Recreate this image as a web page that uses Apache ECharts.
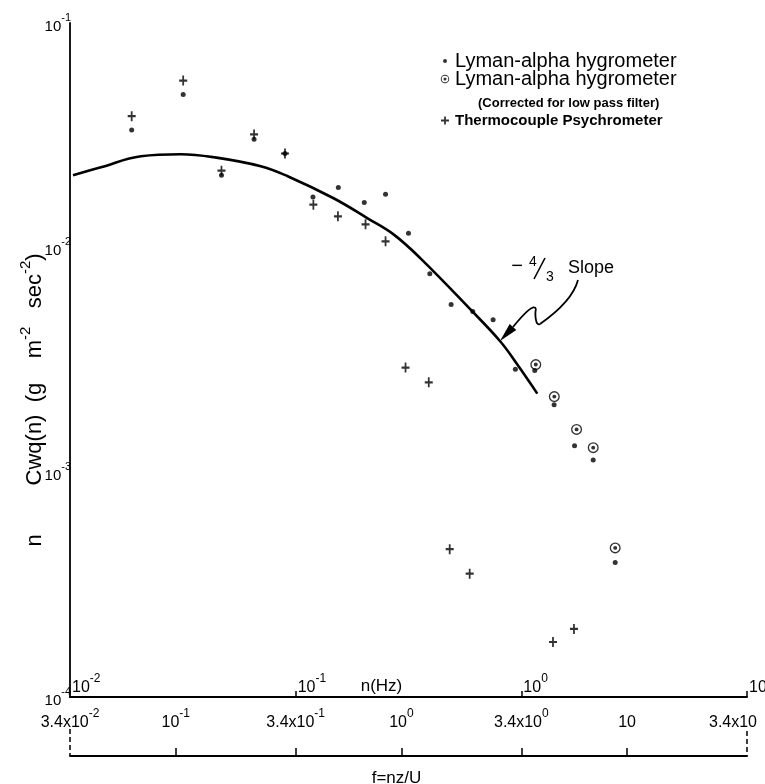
<!DOCTYPE html>
<html><head><meta charset="utf-8">
<script src="https://cdn.jsdelivr.net/npm/echarts@6/dist/echarts.min.js"></script>
<style>html,body{margin:0;padding:0;background:#fff}#c{width:765px;height:784px}</style>
</head><body><div id="c"></div>
<script>
// ---------------- data (f = nz/U on x, n Cwq(n) on y) ----------------
const lymanF = [0.0638, 0.1079, 0.1595, 0.2224, 0.3049, 0.4056, 0.5254, 0.6847, 0.8507, 1.075, 1.336, 1.661, 2.071, 2.549, 3.199, 3.900, 4.750, 5.852, 7.079, 8.860];
const lymanV = [0.03344, 0.04808, 0.02101, 0.03040, 0.02625, 0.01681, 0.01852, 0.01587, 0.01729, 0.01158, 0.007656, 0.005587, 0.005200, 0.004775, 0.002876, 0.002837, 0.002001, 0.001314, 0.001135, 0.0003967];
const correctedF = [3.941, 4.760, 5.974, 7.079, 8.860];
const correctedV = [0.003017, 0.002173, 0.001553, 0.001288, 0.000461];
const thermoF = [0.0638, 0.1079, 0.1595, 0.2224, 0.3049, 0.4073, 0.5233, 0.6936, 0.8507, 1.043, 1.322, 1.637, 2.007, 4.696, 5.817];
const thermoV = [0.03848, 0.05541, 0.02200, 0.03190, 0.02625, 0.01554, 0.01379, 0.01270, 0.01067, 0.002926, 0.002517, 0.000455, 0.0003541, 0.0001757, 0.0002008];
const curveF = [0.03505, 0.04664, 0.07009, 0.10536, 0.14746, 0.238, 0.3134, 0.5008, 0.7082, 0.9229, 1.2152, 2.0227, 2.7455, 3.264, 4.0018];
const curveV = [0.02101, 0.02280, 0.02553, 0.02606, 0.02527, 0.02305, 0.02080, 0.01659, 0.01351, 0.01146, 0.008959, 0.005308, 0.003822, 0.003017, 0.002240];

// ---------------- axes / ticks ----------------
const F_MIN = 0.034, F_MAX = 34;
const N_MIN = 0.01, N_MAX = 10;
const Y_MIN = 0.0001, Y_MAX = 0.1;
const fTicks = [0.034, 0.1, 0.34, 1, 3.4, 10, 34];
const fTickLabels = [['3.4x10', '-2'], ['10', '-1'], ['3.4x10', '-1'], ['10', '0'], ['3.4x10', '0'], ['10', ''], ['3.4x10', '']];
const fTickMarks = [0.1, 0.34, 1, 3.4, 10];
const nTicks = [0.01, 0.1, 1, 10];
const nTickLabels = [['10', '-2'], ['10', '-1'], ['10', '0'], ['10', '']];
const nTickMarks = [0.1, 1, 10];
const yTicks = [0.0001, 0.001, 0.01, 0.1];
const yTickLabels = [['10', '-4'], ['10', '-3'], ['10', '-2'], ['10', '-1']];

const S1 = 'Lyman-alpha hygrometer';
const S2 = 'Lyman-alpha hygrometer (Corrected for low pass filter)';
const S3 = 'Thermocouple Psychrometer';

const FONT = "'Liberation Sans', Arial, sans-serif";
const GRID = {left: 70, right: 18, top: 23, bottom: 87, containLabel: false, outerBoundsMode: 'none'};

function idxOf(ticks, logVal) {
  for (let i = 0; i < ticks.length; i++) if (Math.abs(Math.log10(ticks[i]) - logVal) < 1e-6) return i;
  return -1;
}
function supText(pair) {
  return '{b|' + pair[0] + '}' + (pair[1] ? '{s|' + pair[1] + '}' : '');
}
function richFor(base, sup, pad, padLeft, endPad) {
  return {
    b: {fontSize: base, fontFamily: FONT, color: '#000', padding: [pad, 0, 0, padLeft]},
    s: {fontSize: sup, fontFamily: FONT, color: '#000', verticalAlign: 'top'},
    e: {fontSize: base, fontFamily: FONT, color: '#000', padding: [pad, endPad, 0, 0]}
  };
}
const zip = (xs, ys) => xs.map((x, i) => [x, ys[i]]);

const dotSym = 'circle';
const circSym = 'path://M0,-10A10,10,0,1,1,0,10A10,10,0,1,1,0,-10ZM0,-7.6A7.6,7.6,0,1,0,0,7.6A7.6,7.6,0,1,0,0,-7.6ZM0,-3.6A3.6,3.6,0,1,1,0,3.6A3.6,3.6,0,1,1,0,-3.6Z';
const plusSym = 'path://M-2,-9L2,-9L2,-2L9,-2L9,2L2,2L2,9L-2,9L-2,2L-9,2L-9,-2L-2,-2Z';
const dotIcon = 'path://M-10,-10M10,10M0,-4A4,4,0,1,1,0,4A4,4,0,1,1,0,-4Z';
const circIcon = 'path://M-10,-10M10,10M0,-8.5A8.5,8.5,0,1,1,0,8.5A8.5,8.5,0,1,1,0,-8.5ZM0,-6.6A6.6,6.6,0,1,0,0,6.6A6.6,6.6,0,1,0,0,-6.6ZM0,-3A3,3,0,1,1,0,3A3,3,0,1,1,0,-3Z';
const plusIcon = 'path://M-10,-10M10,10M-1.8,-8L1.8,-8L1.8,-1.8L8,-1.8L8,1.8L1.8,1.8L1.8,8L-1.8,8L-1.8,1.8L-8,1.8L-8,-1.8L-1.8,-1.8Z';

const chart = echarts.init(document.getElementById('c'), null, {renderer: 'canvas'});

const leftX = GRID.left, rightX = 765 - GRID.right;
const legendCommon = {orient: 'vertical', left: 440, itemWidth: 10, itemHeight: 10, selectedMode: false, padding: 0};

chart.setOption({
  animation: false,
  backgroundColor: '#fff',
  grid: GRID,
  legend: [
    Object.assign({}, legendCommon, {
      top: 51,
      textStyle: {fontSize: 20, fontFamily: FONT, color: '#000'},
      data: [{name: S1, icon: dotIcon}]
    }),
    Object.assign({}, legendCommon, {
      top: 69,
      textStyle: {fontSize: 20, fontFamily: FONT, color: '#000'},
      formatter: () => S1,
      data: [{name: S2, icon: circIcon}]
    }),
    Object.assign({}, legendCommon, {
      top: 113,
      textStyle: {fontSize: 15, fontWeight: 'bold', fontFamily: FONT, color: '#000'},
      data: [{name: S3, icon: plusIcon}]
    })
  ],
  xAxis: [
    {type: 'log', logBase: 10, min: F_MIN, max: F_MAX, show: false},
    {
      type: 'value', position: 'bottom', offset: 0,
      min: Math.log10(N_MIN), max: Math.log10(N_MAX),
      axisLine: {show: true, onZero: false, lineStyle: {color: '#000', width: 1.8}},
      axisTick: {show: true, inside: true, length: 6, lineStyle: {color: '#000', width: 1.5}, customValues: nTickMarks.map(Math.log10)},
      axisLabel: {
        show: true, inside: true, margin: 1, align: 'left', verticalAlign: 'bottom',
        customValues: nTicks.map(Math.log10),
        formatter: v => { const i = idxOf(nTicks, v); return i < 0 ? '' : supText(nTickLabels[i]); },
        rich: richFor(16, 12, 7, 2, 0)
      },
      splitLine: {show: false},
      name: 'n(Hz)', nameLocation: 'middle', nameGap: -19, nameMoveOverlap: false,
      nameTextStyle: {fontSize: 17, fontFamily: FONT, color: '#000', padding: [0, 54, 0, 0]}
    },
    {
      type: 'value', position: 'bottom', offset: 59,
      min: Math.log10(F_MIN), max: Math.log10(F_MAX),
      axisLine: {show: true, onZero: false, lineStyle: {color: '#000', width: 1.8}},
      axisTick: {show: true, inside: true, length: 8, lineStyle: {color: '#000', width: 1.5}, customValues: fTickMarks.map(Math.log10)},
      axisLabel: {
        show: true, inside: true, margin: 25, align: 'center', verticalAlign: 'bottom',
        showMinLabel: true, showMaxLabel: true,
        customValues: fTicks.map(Math.log10),
        formatter: v => {
          const i = idxOf(fTicks, v);
          if (i < 0) return '';
          if (i === fTicks.length - 1) return '{e|' + fTickLabels[i][0] + '}';
          return supText(fTickLabels[i]);
        },
        rich: richFor(16, 12, 7, 0, 28)
      },
      splitLine: {show: false},
      name: 'f=nz/U', nameLocation: 'middle', nameGap: 14, nameMoveOverlap: false,
      nameTextStyle: {fontSize: 17, fontFamily: FONT, color: '#000', padding: [0, 24, 0, 0]}
    }
  ],
  yAxis: {
    type: 'log', logBase: 10, min: Y_MIN, max: Y_MAX,
    axisLine: {show: true, onZero: false, lineStyle: {color: '#000', width: 1.8}},
    axisTick: {show: false},
    minorTick: {show: false},
    splitLine: {show: false},
    axisLabel: {
      margin: -1, align: 'right',
      formatter: v => { const i = idxOf(yTicks, Math.log10(v)); return i < 0 ? '' : supText(yTickLabels[i]); },
      rich: richFor(15, 11, 7, 0, 0)
    },
    name: '{a|n        Cwq(n)  (g    m}{s|-2}{a|   sec}{s|-2}{a|)}',
    nameLocation: 'middle', nameGap: 24, nameRotate: 90, nameMoveOverlap: false,
    nameTextStyle: {
      padding: [0, 80, 0, 0],
      rich: {
        a: {fontSize: 22, fontFamily: FONT, color: '#000', padding: [6, 0, 0, 0]},
        s: {fontSize: 15, fontFamily: FONT, color: '#000', verticalAlign: 'top'}
      }
    }
  },
  series: [
    {
      name: '-4/3 slope fit', type: 'line', xAxisIndex: 0, yAxisIndex: 0,
      data: zip(curveF, curveV), smooth: 0.4, showSymbol: false, symbol: 'none',
      lineStyle: {color: '#000', width: 2.6}, z: 2, silent: true
    },
    {
      name: S1, type: 'scatter', xAxisIndex: 0, yAxisIndex: 0,
      data: zip(lymanF, lymanV), symbol: dotSym, symbolSize: 5,
      itemStyle: {color: '#000'}, z: 3
    },
    {
      name: S2, type: 'scatter', xAxisIndex: 0, yAxisIndex: 0,
      data: zip(correctedF, correctedV), symbol: circSym, symbolSize: 11,
      itemStyle: {color: '#000'}, z: 4
    },
    {
      name: S3, type: 'scatter', xAxisIndex: 0, yAxisIndex: 0,
      data: zip(thermoF, thermoV), symbol: plusSym, symbolSize: [8, 10],
      itemStyle: {color: '#000'}, z: 3
    }
  ],
  graphic: [
    {type: 'text', x: 478, y: 103, style: {text: '(Corrected for low pass filter)', fontSize: 13, fontWeight: 'bold', fontFamily: FONT, fill: '#000', align: 'left', verticalAlign: 'middle', textAlign: 'left', textVerticalAlign: 'middle'}},
    // -4/3 Slope annotation
    {type: 'text', x: 517, y: 266, style: {text: '\u2212', fontSize: 20, fontFamily: FONT, fill: '#000', align: 'center', verticalAlign: 'middle', textAlign: 'center', textVerticalAlign: 'middle'}},
    {type: 'text', x: 533, y: 262, style: {text: '4', fontSize: 14, fontFamily: FONT, fill: '#000', align: 'center', verticalAlign: 'middle', textAlign: 'center', textVerticalAlign: 'middle'}},
    {type: 'line', shape: {x1: 534, y1: 279, x2: 545, y2: 258}, style: {stroke: '#000', lineWidth: 1.6}},
    {type: 'text', x: 550, y: 277, style: {text: '3', fontSize: 14, fontFamily: FONT, fill: '#000', align: 'center', verticalAlign: 'middle', textAlign: 'center', textVerticalAlign: 'middle'}},
    {type: 'text', x: 568, y: 268, style: {text: 'Slope', fontSize: 18, fontFamily: FONT, fill: '#000', align: 'left', verticalAlign: 'middle', textAlign: 'left', textVerticalAlign: 'middle'}},
    {type: 'bezierCurve', shape: {x1: 578, y1: 280, cpx1: 574, cpy1: 295, cpx2: 560, cpy2: 310, x2: 540, y2: 324}, style: {stroke: '#000', lineWidth: 1.8, fill: null}},
    {type: 'bezierCurve', shape: {x1: 540, y1: 324, cpx1: 535, cpy1: 327, cpx2: 535, cpy2: 312, x2: 536, y2: 309}, style: {stroke: '#000', lineWidth: 1.8, fill: null}},
    {type: 'bezierCurve', shape: {x1: 536, y1: 309, cpx1: 534, cpy1: 304, cpx2: 526, cpy2: 311, x2: 513, y2: 327}, style: {stroke: '#000', lineWidth: 1.8, fill: null}},
    {type: 'polygon', shape: {points: [[500, 341], [516.3, 330.1], [509.7, 323.9]]}, style: {fill: '#000'}},
    // dashed end markers joining the two frequency scales
    {type: 'line', shape: {x1: leftX, y1: 729, x2: leftX, y2: 756}, style: {stroke: '#000', lineWidth: 1.5, lineDash: [5, 3]}},
    {type: 'line', shape: {x1: rightX, y1: 731, x2: rightX, y2: 756}, style: {stroke: '#000', lineWidth: 1.5, lineDash: [5, 3]}}
  ]
});
</script>
</body></html>
